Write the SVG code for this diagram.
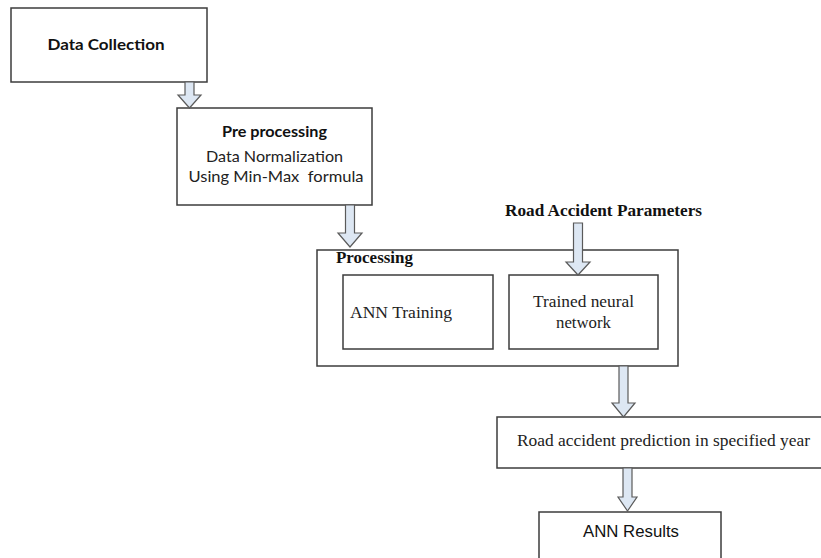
<svg xmlns="http://www.w3.org/2000/svg" width="821" height="558" viewBox="0 0 821 558">
  <style>
    .box { fill: #ffffff; stroke: #3c3c3c; stroke-width: 1.5; }
    .arrow { fill: #dde7f3; stroke: #5a5a5a; stroke-width: 1.2; stroke-linejoin: miter; }
    .cal { font-family: Lato, "Open Sans", sans-serif; font-size: 16px; fill: #222; }
    .calb { font-family: Lato, "Open Sans", sans-serif; font-size: 16px; font-weight: bold; fill: #111; }
    .tim { font-family: "Liberation Serif", "Times New Roman", serif; font-size: 17px; fill: #222; }
    .timb { font-family: "Liberation Serif", "Times New Roman", serif; font-size: 17px; font-weight: bold; fill: #111; }
    .ari { font-family: "Liberation Sans", Arial, sans-serif; font-size: 16.5px; fill: #111; }
  </style>
  <rect width="821" height="558" fill="#ffffff"/>

  <g id="data-collection">
    <rect class="box" x="11" y="8" width="196" height="74"/>
    <text class="calb" x="106" y="50" text-anchor="middle" textLength="117" lengthAdjust="spacingAndGlyphs">Data Collection</text>
  </g>

  <g id="pre-processing">
    <rect class="box" x="177" y="108" width="195" height="97"/>
    <text class="calb" x="274.5" y="137" text-anchor="middle" textLength="105" lengthAdjust="spacingAndGlyphs">Pre processing</text>
    <text class="cal" x="274.5" y="162" text-anchor="middle" textLength="137" lengthAdjust="spacingAndGlyphs">Data Normalization</text>
    <text class="cal" x="276" y="182" text-anchor="middle" textLength="175" lengthAdjust="spacingAndGlyphs" xml:space="preserve">Using Min-Max  formula</text>
  </g>

  <g id="road-accident-parameters">
    <text class="timb" x="505" y="216" textLength="197" lengthAdjust="spacingAndGlyphs">Road Accident Parameters</text>
  </g>

  <g id="processing">
    <rect class="box" x="317" y="250" width="361" height="116"/>
    <text class="timb" x="336" y="263" textLength="77" lengthAdjust="spacingAndGlyphs">Processing</text>
  </g>

  <g id="ann-training">
    <rect class="box" x="343" y="275" width="150" height="74"/>
    <text class="tim" x="350" y="318" textLength="102" lengthAdjust="spacingAndGlyphs">ANN Training</text>
  </g>

  <g id="trained-network">
    <rect class="box" x="509" y="275" width="149" height="74"/>
    <text class="tim" x="583.5" y="307" text-anchor="middle" textLength="101" lengthAdjust="spacingAndGlyphs">Trained neural</text>
    <text class="tim" x="583.5" y="328" text-anchor="middle" textLength="55" lengthAdjust="spacingAndGlyphs">network</text>
  </g>

  <g id="prediction">
    <rect class="box" x="497" y="417" width="334" height="51"/>
    <text class="tim" x="517" y="446" textLength="293" lengthAdjust="spacingAndGlyphs">Road accident prediction in specified year</text>
  </g>

  <g id="ann-results">
    <rect class="box" x="539" y="512" width="182" height="60"/>
    <text class="ari" x="631" y="537" text-anchor="middle" textLength="96" lengthAdjust="spacingAndGlyphs">ANN Results</text>
  </g>

  <g id="connectors">
    <polygon class="arrow" points="185,82 194,82 194,95 201,95 189.5,108 178,95 185,95"/>
    <polygon class="arrow" points="345.5,205 354.5,205 354.5,233 362,233 350,247 338,233 345.5,233"/>
    <polygon class="arrow" points="573.5,223 582.5,223 582.5,262 590,262 578,275 566,262 573.5,262"/>
    <polygon class="arrow" points="619,366 628,366 628,403 635,403 623.5,417 612,403 619,403"/>
    <polygon class="arrow" points="623,468 632,468 632,497 637,497 627.5,511 618,497 623,497"/>
  </g>
</svg>
